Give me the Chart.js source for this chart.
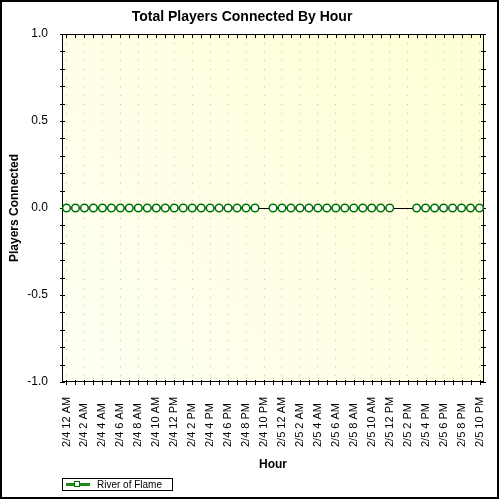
<!DOCTYPE html>
<html><head><meta charset="utf-8">
<script src="https://cdn.jsdelivr.net/npm/chart.js@4.4.1/dist/chart.umd.min.js"></script>
<style>html,body{margin:0;padding:0;background:#fff;}canvas{display:block;}</style>
</head><body>
<canvas id="c" width="500" height="500"></canvas>
<script>
const chartTitle = 'Total Players Connected By Hour';
const xAxisTitle = 'Hour';
const yAxisTitle = 'Players Connected';
const seriesName = 'River of Flame';

const hourLabels = [
  '2/4 12 AM','2/4 1 AM','2/4 2 AM','2/4 3 AM','2/4 4 AM','2/4 5 AM',
  '2/4 6 AM','2/4 7 AM','2/4 8 AM','2/4 9 AM','2/4 10 AM','2/4 11 AM',
  '2/4 12 PM','2/4 1 PM','2/4 2 PM','2/4 3 PM','2/4 4 PM','2/4 5 PM',
  '2/4 6 PM','2/4 7 PM','2/4 8 PM','2/4 9 PM','2/4 10 PM','2/4 11 PM',
  '2/5 12 AM','2/5 1 AM','2/5 2 AM','2/5 3 AM','2/5 4 AM','2/5 5 AM',
  '2/5 6 AM','2/5 7 AM','2/5 8 AM','2/5 9 AM','2/5 10 AM','2/5 11 AM',
  '2/5 12 PM','2/5 1 PM','2/5 2 PM','2/5 3 PM','2/5 4 PM','2/5 5 PM',
  '2/5 6 PM','2/5 7 PM','2/5 8 PM','2/5 9 PM','2/5 10 PM'
];

const playersConnected = [
  0,0,0,0,0,0,0,0,0,0,0,0,
  0,0,0,0,0,0,0,0,0,0,null,0,
  0,0,0,0,0,0,0,0,0,0,0,0,
  0,null,null,0,0,0,0,0,0,0,0
];

const yMin = -1.0;
const yMax = 1.0;
const yStep = 0.1;

const FONT = '"Liberation Sans", Arial, sans-serif';

const chartDecor = {
  id: 'chartDecor',
  beforeDraw(chart) {
    const {ctx, chartArea: a} = chart;
    ctx.save();
    ctx.fillStyle = '#ffffff';
    ctx.fillRect(0, 0, chart.width, chart.height);
    const g = ctx.createLinearGradient(a.left, a.bottom, a.right, a.top);
    g.addColorStop(0, '#fffff4');
    g.addColorStop(1, '#ffffd4');
    ctx.fillStyle = g;
    ctx.fillRect(a.left, a.top, a.right - a.left, a.bottom - a.top);
    ctx.restore();
  },
  beforeDatasetsDraw(chart) {
    const {ctx, chartArea: a, scales} = chart;
    const x = scales.x, y = scales.y;
    ctx.save();
    ctx.strokeStyle = '#000';
    ctx.lineWidth = 1;
    ctx.beginPath();
    for (let i = 0; i < x.ticks.length; i++) {
      const px = Math.round(x.getPixelForTick(i)) + 0.5;
      ctx.moveTo(px, a.bottom - 2); ctx.lineTo(px, a.bottom + 3);
      ctx.moveTo(px, a.top); ctx.lineTo(px, a.top + 4);
    }
    for (let i = 0; i < y.ticks.length; i++) {
      const py = Math.round(y.getPixelForTick(i)) + 0.5;
      ctx.moveTo(a.left - 2, py); ctx.lineTo(a.left + 3, py);
      ctx.moveTo(a.right - 3, py); ctx.lineTo(a.right + 2, py);
    }
    ctx.stroke();
    ctx.strokeRect(Math.round(a.left) + 0.5, Math.round(a.top) + 0.5,
      Math.round(a.right - a.left) - 1, Math.round(a.bottom - a.top) - 1);
    ctx.restore();
  },
  afterDraw(chart) {
    const {ctx, scales} = chart;
    const x = scales.x;
    ctx.save();
    ctx.fillStyle = '#000';
    ctx.font = '11px ' + FONT;
    ctx.textAlign = 'left';
    ctx.textBaseline = 'middle';
    for (let i = 0; i < x.ticks.length; i += 2) {
      const px = x.getPixelForTick(i);
      ctx.save();
      ctx.translate(px, 447);
      ctx.rotate(-Math.PI / 2);
      ctx.fillText(hourLabels[i], 0, 0);
      ctx.restore();
    }
    ctx.strokeStyle = '#000';
    ctx.lineWidth = 1;
    ctx.strokeRect(62.5, 478.5, 110, 12);
    ctx.fillStyle = '#1a8a1a';
    ctx.fillRect(66, 483, 24, 3);
    ctx.fillStyle = '#fff';
    ctx.fillRect(74.5, 481.5, 5, 5);
    ctx.strokeStyle = '#007000';
    ctx.strokeRect(74.5, 481.5, 5, 5);
    ctx.fillStyle = '#000';
    ctx.font = '10px ' + FONT;
    ctx.textAlign = 'left';
    ctx.textBaseline = 'middle';
    ctx.fillText(seriesName, 97, 485);
    ctx.strokeStyle = '#000';
    ctx.lineWidth = 2;
    ctx.strokeRect(1, 1, 497, 497);
    ctx.restore();
  }
};

new Chart(document.getElementById('c'), {
  type: 'line',
  data: {
    labels: hourLabels,
    datasets: [{
      label: seriesName,
      data: playersConnected,
      borderColor: '#008000',
      borderWidth: 2,
      pointRadius: 3.8,
      pointBorderWidth: 1.5,
      pointBackgroundColor: '#ffffff',
      pointBorderColor: '#007000',
      spanGaps: false,
      tension: 0
    }]
  },
  options: {
    responsive: false,
    animation: false,
    layout: { padding: { left: 0, right: 16, top: 0, bottom: 0 } },
    plugins: {
      legend: { display: false },
      tooltip: { enabled: false },
      title: {
        display: true,
        text: chartTitle,
        color: '#000',
        font: { family: FONT, size: 14, weight: 'bold' },
        padding: { top: 9, bottom: 8.2 }
      }
    },
    scales: {
      x: {
        type: 'category',
        offset: true,
        ticks: { display: false, autoSkip: false },
        grid: {
          drawTicks: false,
          lineWidth: 1,
          color: (c) => (c.index % 2 === 0 ? '#bdbdbd' : 'rgba(0,0,0,0)')
        },
        border: { display: false, dash: [1, 7.75] },
        title: {
          display: true,
          text: xAxisTitle,
          color: '#000',
          font: { family: FONT, size: 12, weight: 'bold' },
          padding: { top: 0, bottom: 27.8 }
        },
        afterFit(scale) { scale.height = 118; }
      },
      y: {
        min: yMin,
        max: yMax,
        ticks: {
          stepSize: yStep,
          padding: 14,
          color: '#000',
          font: { family: FONT, size: 12 },
          callback: (v) => {
            const r = Math.round(v * 10);
            return r % 5 === 0 ? (r / 10).toFixed(1) : '';
          }
        },
        grid: {
          drawTicks: false,
          lineWidth: 1,
          color: (c) => (c.tick && Math.abs(c.tick.value) < 1e-9 ? '#000' : 'rgba(0,0,0,0)')
        },
        border: { display: false },
        title: {
          display: true,
          text: yAxisTitle,
          color: '#000',
          font: { family: FONT, size: 12, weight: 'bold' },
          padding: { top: 7.8, bottom: 0 }
        },
        afterFit(scale) { scale.width = 62; }
      }
    }
  },
  plugins: [chartDecor]
});
</script>
</body></html>
